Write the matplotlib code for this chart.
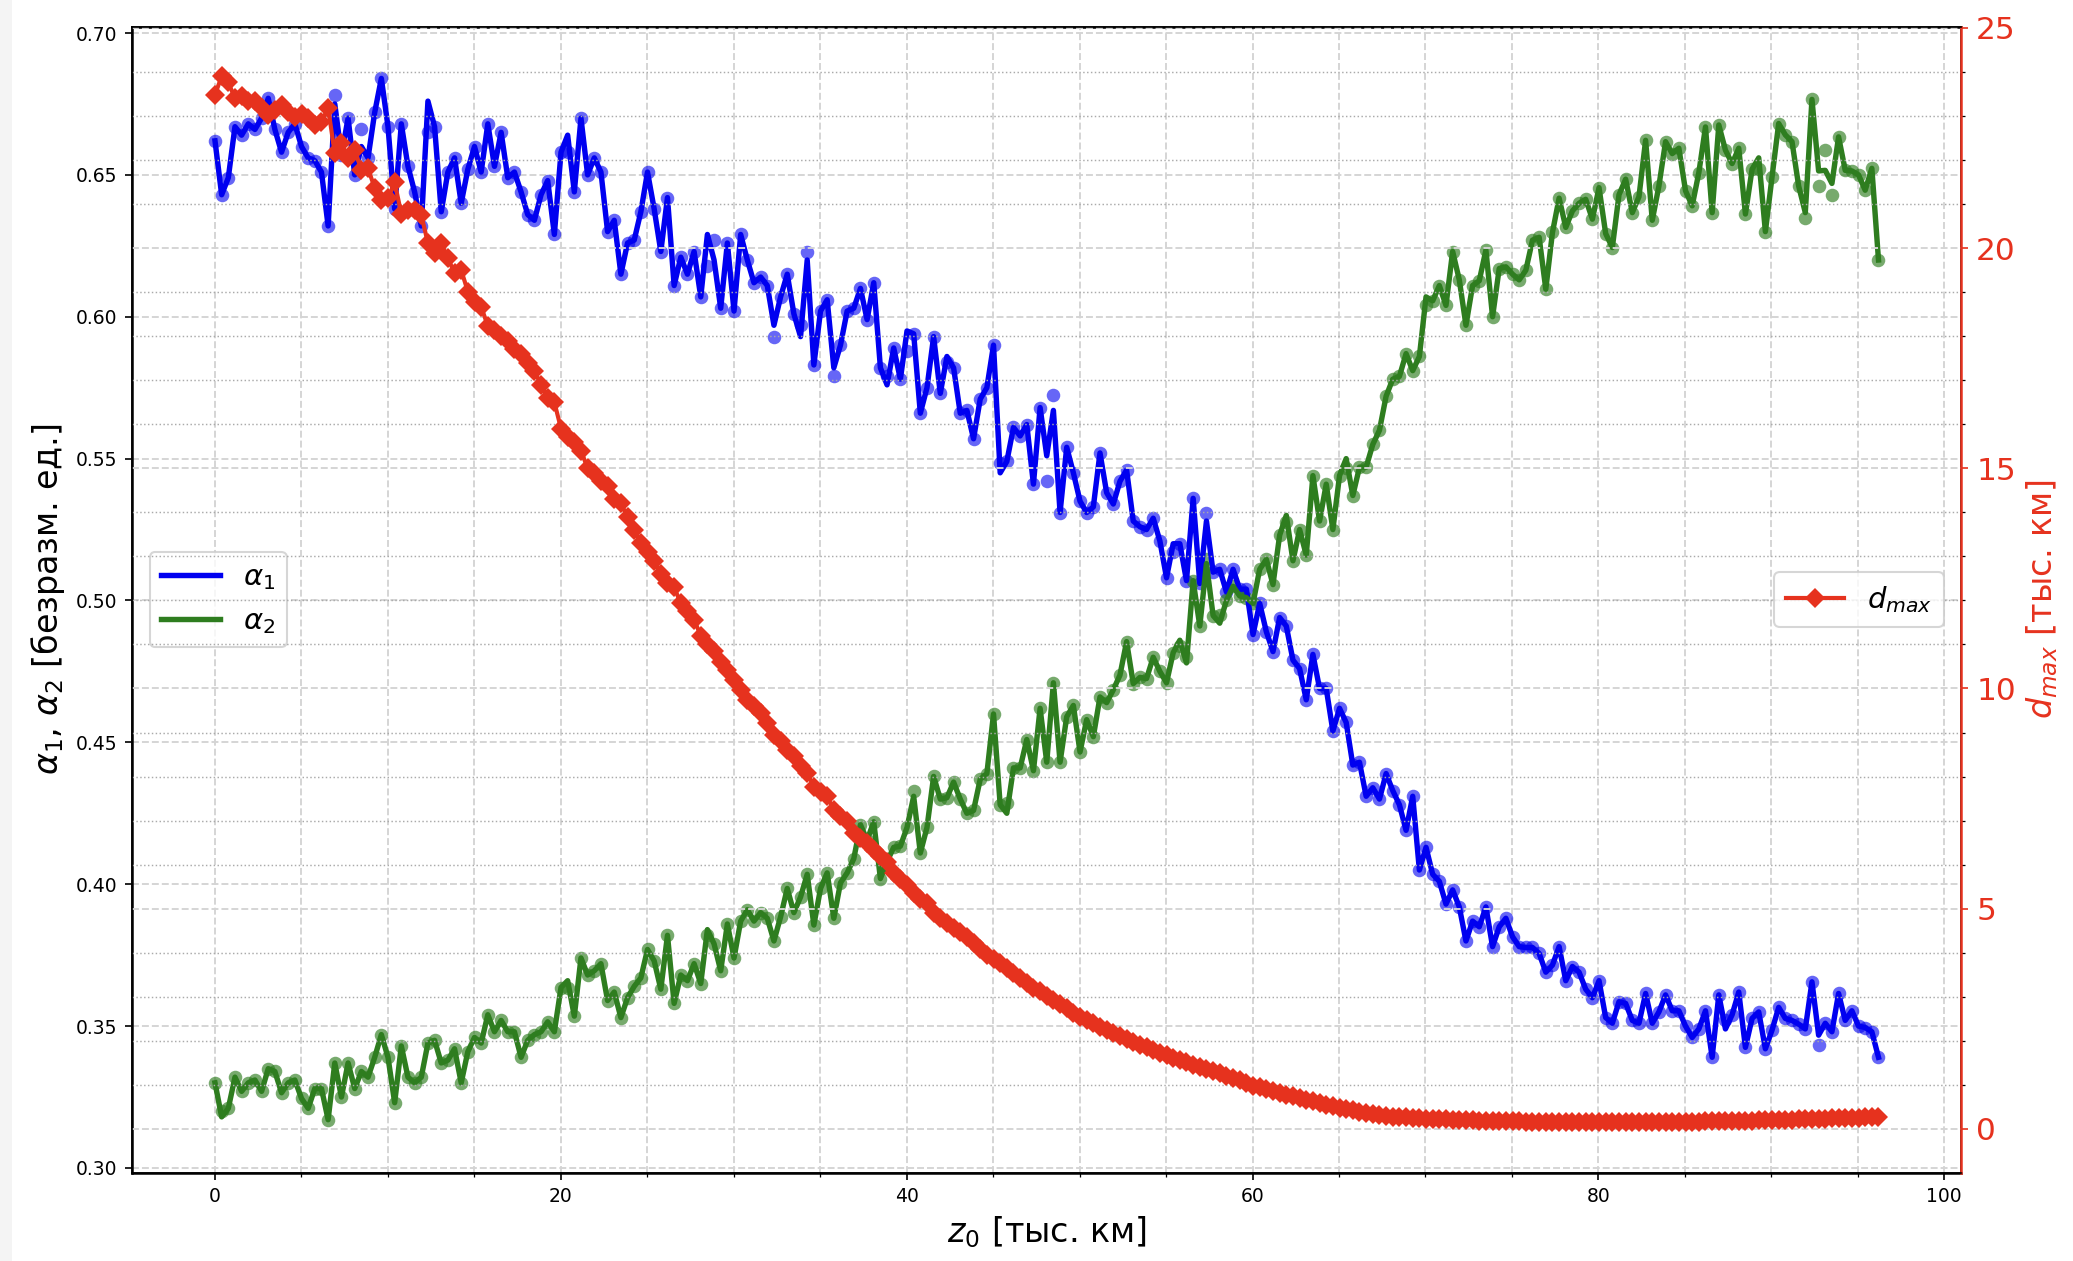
import numpy as np
import matplotlib
matplotlib.use("Agg")
import matplotlib.pyplot as plt
from matplotlib.ticker import MultipleLocator
from matplotlib.patches import Rectangle

# ---------------- data ----------------
z0 = np.linspace(0, 96.2, 251)  # тыс. км

alpha1 = [
    0.662, 0.643, 0.649, 0.667, 0.664, 0.668, 0.666, 0.670, 0.677, 0.666,
    0.658, 0.665, 0.668, 0.660, 0.656, 0.655, 0.651, 0.632, 0.675, 0.657,
    0.670, 0.650, 0.660, 0.656, 0.672, 0.684, 0.667, 0.638, 0.668, 0.653,
    0.644, 0.632, 0.676, 0.667, 0.637, 0.651, 0.656, 0.640, 0.652, 0.660,
    0.651, 0.668, 0.653, 0.665, 0.649, 0.651, 0.644, 0.636, 0.634, 0.643,
    0.648, 0.629, 0.658, 0.664, 0.644, 0.670, 0.650, 0.656, 0.651, 0.630,
    0.634, 0.615, 0.626, 0.627, 0.637, 0.651, 0.638, 0.623, 0.642, 0.611,
    0.621, 0.615, 0.623, 0.607, 0.629, 0.620, 0.603, 0.626, 0.602, 0.629,
    0.620, 0.612, 0.614, 0.611, 0.597, 0.607, 0.615, 0.601, 0.593, 0.620,
    0.583, 0.602, 0.606, 0.582, 0.590, 0.602, 0.603, 0.610, 0.599, 0.612,
    0.582, 0.576, 0.589, 0.578, 0.595, 0.594, 0.566, 0.575, 0.593, 0.573,
    0.586, 0.582, 0.566, 0.567, 0.557, 0.571, 0.575, 0.590, 0.545, 0.549,
    0.561, 0.558, 0.562, 0.541, 0.568, 0.551, 0.567, 0.531, 0.554, 0.545,
    0.535, 0.531, 0.533, 0.552, 0.538, 0.534, 0.542, 0.546, 0.528, 0.526,
    0.525, 0.529, 0.521, 0.508, 0.520, 0.520, 0.507, 0.536, 0.506, 0.528,
    0.510, 0.511, 0.503, 0.511, 0.504, 0.504, 0.488, 0.499, 0.489, 0.482,
    0.494, 0.491, 0.479, 0.476, 0.465, 0.481, 0.469, 0.469, 0.454, 0.462,
    0.457, 0.442, 0.443, 0.431, 0.434, 0.430, 0.439, 0.433, 0.428, 0.419,
    0.431, 0.405, 0.413, 0.4035, 0.401, 0.393, 0.398, 0.392, 0.380, 0.387,
    0.385, 0.392, 0.378, 0.385, 0.388, 0.3815, 0.378, 0.3777, 0.3777, 0.3756,
    0.369, 0.3715, 0.378, 0.366, 0.371, 0.369, 0.363, 0.360, 0.366, 0.353,
    0.351, 0.3586, 0.358, 0.352, 0.351, 0.3615, 0.351, 0.355, 0.361, 0.3554,
    0.3554, 0.350, 0.346, 0.349, 0.3554, 0.339, 0.361, 0.349, 0.354, 0.362,
    0.3425, 0.3527, 0.355, 0.342, 0.3486, 0.3566, 0.3527, 0.352, 0.3507, 0.349,
    0.3656, 0.3468, 0.351, 0.348, 0.3615, 0.352, 0.3554, 0.350, 0.3495, 0.348, 0.339,
]
# measured points that sit off the drawn line
alpha1_dot_offline = {18: 0.678, 22: 0.666, 32: 0.665, 53: 0.658, 74: 0.618,
                      75: 0.627, 84: 0.593, 88: 0.597, 89: 0.623, 93: 0.579,
                      101: 0.579, 104: 0.588, 110: 0.584, 118: 0.5485,
                      125: 0.542, 126: 0.5725, 144: 0.517, 149: 0.531,
                      227: 0.352, 241: 0.3433}

alpha2 = [
    0.330, 0.318, 0.321, 0.332, 0.327, 0.330, 0.331, 0.327, 0.335, 0.334,
    0.3265, 0.330, 0.331, 0.3245, 0.321, 0.328, 0.328, 0.317, 0.337, 0.325,
    0.337, 0.328, 0.334, 0.332, 0.339, 0.347, 0.339, 0.323, 0.343, 0.332,
    0.330, 0.332, 0.344, 0.345, 0.337, 0.338, 0.342, 0.330, 0.341, 0.346,
    0.344, 0.354, 0.348, 0.352, 0.348, 0.348, 0.339, 0.345, 0.347, 0.348,
    0.3515, 0.348, 0.3636, 0.366, 0.3535, 0.374, 0.368, 0.3695, 0.372, 0.359,
    0.362, 0.353, 0.360, 0.364, 0.367, 0.377, 0.373, 0.363, 0.382, 0.358,
    0.368, 0.366, 0.372, 0.365, 0.384, 0.379, 0.3695, 0.386, 0.374, 0.387,
    0.391, 0.387, 0.390, 0.388, 0.380, 0.3885, 0.3985, 0.390, 0.3955, 0.4035,
    0.3856, 0.3985, 0.404, 0.388, 0.4005, 0.404, 0.409, 0.421, 0.4155, 0.422,
    0.402, 0.408, 0.413, 0.4134, 0.420, 0.431, 0.411, 0.420, 0.438, 0.430,
    0.4305, 0.436, 0.430, 0.425, 0.426, 0.437, 0.439, 0.460, 0.428, 0.425,
    0.441, 0.441, 0.451, 0.440, 0.462, 0.443, 0.471, 0.443, 0.459, 0.463,
    0.4466, 0.458, 0.452, 0.466, 0.464, 0.4685, 0.4737, 0.4855, 0.4707, 0.4729,
    0.4725, 0.480, 0.475, 0.471, 0.4816, 0.486, 0.478, 0.507, 0.491, 0.513,
    0.4947, 0.492, 0.500, 0.505, 0.5016, 0.501, 0.499, 0.511, 0.5145, 0.5056,
    0.523, 0.530, 0.514, 0.525, 0.516, 0.544, 0.528, 0.541, 0.525, 0.544,
    0.550, 0.537, 0.547, 0.547, 0.555, 0.560, 0.572, 0.578, 0.579, 0.587,
    0.581, 0.586, 0.607, 0.6056, 0.611, 0.604, 0.623, 0.613, 0.597, 0.611,
    0.6127, 0.6235, 0.600, 0.617, 0.6176, 0.615, 0.613, 0.6164, 0.627, 0.628,
    0.6097, 0.6297, 0.6418, 0.6315, 0.6373, 0.640, 0.6414, 0.6344, 0.6455, 0.6293,
    0.6244, 0.643, 0.6485, 0.6367, 0.6423, 0.6622, 0.634, 0.6461, 0.6617, 0.6575,
    0.6594, 0.6444, 0.6391, 0.6508, 0.6669, 0.6367, 0.6676, 0.6587, 0.654, 0.6594,
    0.6362, 0.652, 0.656, 0.630, 0.6493, 0.6681, 0.6641, 0.6617, 0.6461, 0.6367,
    0.6766, 0.6514, 0.6516, 0.647, 0.6634, 0.6516, 0.6514, 0.650, 0.6446, 0.6523, 0.620,
]
alpha2_dot_offline = {1: 0.320, 53: 0.3636, 74: 0.382, 105: 0.433, 119: 0.4286,
                      145: 0.4838, 146: 0.480, 149: 0.5145, 151: 0.4949,
                      161: 0.5278, 170: 0.5467, 182: 0.604, 232: 0.652,
                      239: 0.6347, 241: 0.6461, 242: 0.6587, 243: 0.643}

d_max = [
    23.48, 23.90, 23.76, 23.40, 23.45, 23.33, 23.33, 23.18, 23.02, 23.13,
    23.25, 23.10, 22.98, 23.05, 22.95, 22.80, 22.87, 23.18, 22.15, 22.38,
    22.04, 22.23, 21.77, 21.81, 21.36, 21.09, 21.13, 21.49, 20.78, 20.87,
    20.87, 20.75, 20.11, 19.88, 20.11, 19.77, 19.43, 19.50, 19.01, 18.78,
    18.67, 18.23, 18.14, 18.00, 17.90, 17.70, 17.60, 17.40, 17.20, 16.90,
    16.60, 16.50, 15.90, 15.70, 15.60, 15.40, 15.00, 14.90, 14.70, 14.60,
    14.30, 14.20, 13.90, 13.60, 13.30, 13.10, 12.90, 12.60, 12.40, 12.30,
    11.93, 11.75, 11.56, 11.20, 11.00, 10.84, 10.60, 10.42, 10.20, 9.97,
    9.74, 9.60, 9.44, 9.21, 8.95, 8.80, 8.61, 8.46, 8.25, 8.08,
    7.77, 7.65, 7.55, 7.24, 7.10, 6.98, 6.72, 6.60, 6.49, 6.34,
    6.20, 6.07, 5.81, 5.68, 5.54, 5.35, 5.23, 5.12, 4.90, 4.78,
    4.67, 4.57, 4.48, 4.35, 4.22, 4.08, 3.95, 3.86, 3.76, 3.65,
    3.53, 3.42, 3.31, 3.21, 3.12, 3.02, 2.93, 2.83, 2.74, 2.63,
    2.55, 2.47, 2.40, 2.32, 2.25, 2.18, 2.11, 2.04, 1.97, 1.91,
    1.85, 1.79, 1.73, 1.68, 1.62, 1.56, 1.51, 1.46, 1.41, 1.36,
    1.31, 1.26, 1.21, 1.16, 1.11, 1.04, 0.98, 0.94, 0.90, 0.86,
    0.82, 0.78, 0.74, 0.70, 0.66, 0.63, 0.59, 0.55, 0.52, 0.48,
    0.45, 0.42, 0.39, 0.37, 0.34, 0.32, 0.30, 0.28, 0.27, 0.26,
    0.25, 0.24, 0.23, 0.225, 0.22, 0.215, 0.21, 0.205, 0.20, 0.195,
    0.19, 0.185, 0.18, 0.178, 0.175, 0.172, 0.168, 0.166, 0.164, 0.162,
    0.160, 0.158, 0.157, 0.156, 0.155, 0.154, 0.153, 0.152, 0.152, 0.151,
    0.151, 0.151, 0.151, 0.152, 0.152, 0.153, 0.154, 0.155, 0.156, 0.158,
    0.160, 0.162, 0.164, 0.166, 0.169, 0.172, 0.175, 0.178, 0.181, 0.184,
    0.187, 0.190, 0.193, 0.197, 0.201, 0.205, 0.209, 0.213, 0.217, 0.221,
    0.225, 0.229, 0.233, 0.237, 0.241, 0.245, 0.250, 0.255, 0.260, 0.265, 0.270,
]

label_a1 = r'$\alpha_1$'
label_a2 = r'$\alpha_2$'
label_d = r'$d_{max}$'
xlabel = r'$z_0$ [тыс. км]'
ylabel_left = r'$\alpha_1$, $\alpha_2$ [безразм. ед.]'
ylabel_right = r'$d_{max}$ [тыс. км]'

# ---------------- styling ----------------
C_BLUE = '#0000f0'
C_GREEN = '#2e7d1f'
C_RED = '#e6321e'

a1_dots = list(alpha1)
for k, v in alpha1_dot_offline.items():
    a1_dots[k] = v
a2_dots = list(alpha2)
for k, v in alpha2_dot_offline.items():
    a2_dots[k] = v

DPI = 150
fig = plt.figure(figsize=(2073 / DPI, 1261 / DPI), dpi=DPI)
fig.patches.append(Rectangle((0, 0), 12 / 2073, 1, transform=fig.transFigure,
                             facecolor='#f4f4f4', edgecolor='none', zorder=-10))
ax = fig.add_axes([132 / 2073, 1 - 1172.5 / 1261, (1961.5 - 132) / 2073, (1172.5 - 26.5) / 1261])
ax2 = ax.twinx()

# left axis series
ax.plot(z0, a1_dots, 'o', color=C_BLUE, alpha=0.6, ms=6.5, mew=0, zorder=3)
ax.plot(z0, alpha1, '-', color=C_BLUE, lw=2.6, label=label_a1, zorder=4)
ax.plot(z0, a2_dots, 'o', color=C_GREEN, alpha=0.65, ms=6.5, mew=0, zorder=3)
ax.plot(z0, alpha2, '-', color=C_GREEN, lw=2.6, label=label_a2, zorder=4)

# right axis series
ax2.plot(z0, d_max, '-D', color=C_RED, lw=2.0, ms=6.5, mew=0, label=label_d, zorder=5)

ax.set_xlim(-4.8, 101.0)
ax.set_ylim(0.2984, 0.7023)
ax2.set_ylim(-0.99, 25.03)

ax.xaxis.set_major_locator(MultipleLocator(20))
ax.xaxis.set_minor_locator(MultipleLocator(5))
ax.yaxis.set_major_locator(MultipleLocator(0.05))
ax2.yaxis.set_major_locator(MultipleLocator(5))
ax2.yaxis.set_minor_locator(MultipleLocator(1))

ax.grid(True, which='both', axis='x', ls='--', color='#d4d4d4', lw=0.9)
ax.grid(True, which='major', axis='y', ls='--', color='#d4d4d4', lw=0.9)
ax2.grid(True, which='major', axis='y', ls='--', color='#d4d4d4', lw=0.9)
ax2.grid(True, which='minor', axis='y', ls=':', color='#aaaaaa', lw=0.7)
ax.set_axisbelow(True)

ax.tick_params(axis='both', which='major', labelsize=9)
ax2.tick_params(axis='y', which='major', labelsize=15, labelcolor=C_RED, color=C_RED)
ax2.spines['right'].set_color(C_RED)
ax2.spines['right'].set_linewidth(1.2)
for s in ['left', 'top', 'bottom']:
    ax.spines[s].set_linewidth(1.2)

ax.set_xlabel(xlabel, fontsize=16)
ax.set_ylabel(ylabel_left, fontsize=16)
ax2.set_ylabel(ylabel_right, fontsize=16, color=C_RED)

leg1 = ax.legend(loc='center left', fontsize=14, borderaxespad=0.6)
leg2 = ax2.legend(loc='center right', fontsize=14, borderaxespad=0.6)

fig.savefig('out.png', dpi=DPI)
